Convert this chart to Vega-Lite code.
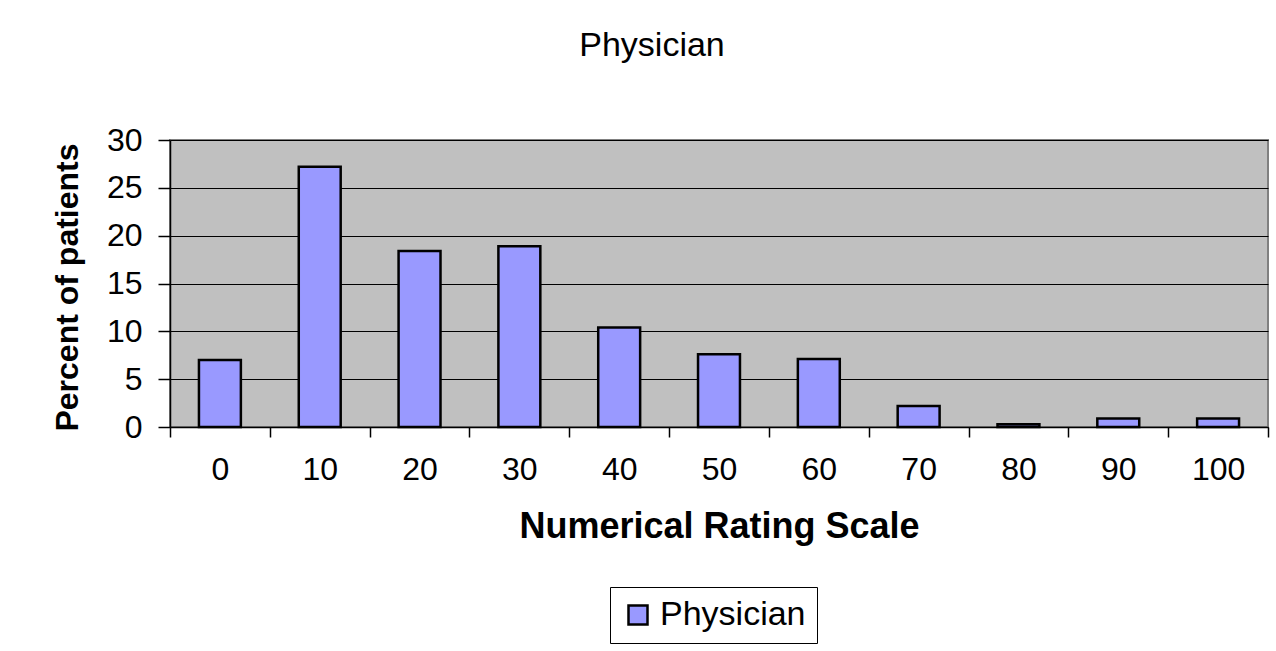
{
  "$schema": "https://vega.github.io/schema/vega-lite/v6.json",
  "width": 1098,
  "height": 287,
  "autosize": {"type": "none"},
  "padding": {"left": 170, "top": 140, "right": 8, "bottom": 224},
  "background": "white",
  "title": {"text": "Physician", "fontSize": 34, "font": "Liberation Sans", "fontWeight": "normal", "color": "black", "dx": -67, "offset": 61},
  "data": {"values": [
    {"rating": 0, "percent": 7.0, "series": "Physician"},
    {"rating": 10, "percent": 27.2, "series": "Physician"},
    {"rating": 20, "percent": 18.4, "series": "Physician"},
    {"rating": 30, "percent": 18.9, "series": "Physician"},
    {"rating": 40, "percent": 10.4, "series": "Physician"},
    {"rating": 50, "percent": 7.6, "series": "Physician"},
    {"rating": 60, "percent": 7.1, "series": "Physician"},
    {"rating": 70, "percent": 2.2, "series": "Physician"},
    {"rating": 80, "percent": 0.3, "series": "Physician"},
    {"rating": 90, "percent": 0.9, "series": "Physician"},
    {"rating": 100, "percent": 0.9, "series": "Physician"}
  ]},
  "mark": {"type": "bar", "stroke": "black", "strokeWidth": 2.5, "fillOpacity": 1, "width": {"band": 0.42}},
  "encoding": {
    "x": {
      "field": "rating", "type": "ordinal",
      "scale": {"paddingInner": 0, "paddingOuter": 0},
      "axis": {
        "title": "Numerical Rating Scale",
        "titleFont": "Liberation Sans", "titleFontSize": 36, "titleFontWeight": "bold", "titleColor": "black",
        "titleBaseline": "middle", "titleY": 99,
        "labelFont": "Liberation Sans", "labelFontSize": 32, "labelColor": "black", "labelAngle": 0,
        "labelPadding": 17, "labelBaseline": "top",
        "tickBand": "extent", "tickSize": 10, "tickColor": "black", "tickWidth": 1.5,
        "domainColor": "black", "domainWidth": 1.5, "grid": false
      }
    },
    "y": {
      "field": "percent", "type": "quantitative",
      "scale": {"domain": [0, 30], "nice": false},
      "axis": {
        "title": "Percent of patients",
        "titleFont": "Liberation Sans", "titleFontSize": 32, "titleFontWeight": "bold", "titleColor": "black",
        "titleAngle": -90, "titleAlign": "center", "titleBaseline": "middle", "titleX": -103, "titleY": 147,
        "values": [0, 5, 10, 15, 20, 25, 30],
        "labelFont": "Liberation Sans", "labelFontSize": 32, "labelColor": "black", "labelPadding": 16,
        "tickSize": 12, "tickColor": "black", "tickWidth": 1.5,
        "domainColor": "black", "domainWidth": 1.5,
        "grid": true, "gridColor": "black", "gridWidth": 1.2, "gridOpacity": 1
      }
    },
    "color": {
      "field": "series", "type": "nominal",
      "scale": {"range": ["#9999ff"]},
      "legend": {
        "title": null, "orient": "none", "legendX": 440, "legendY": 447,
        "symbolType": "square", "symbolSize": 361, "symbolStrokeColor": "black", "symbolStrokeWidth": 2.5, "symbolOpacity": 1,
        "labelFont": "Liberation Sans", "labelFontSize": 34, "labelColor": "black", "labelOffset": 5,
        "strokeColor": "black", "fillColor": "white", "padding": 11, "cornerRadius": 0
      }
    }
  },
  "config": {
    "view": {"fill": "#c0c0c0", "stroke": "#808080", "strokeWidth": 2}
  }
}
